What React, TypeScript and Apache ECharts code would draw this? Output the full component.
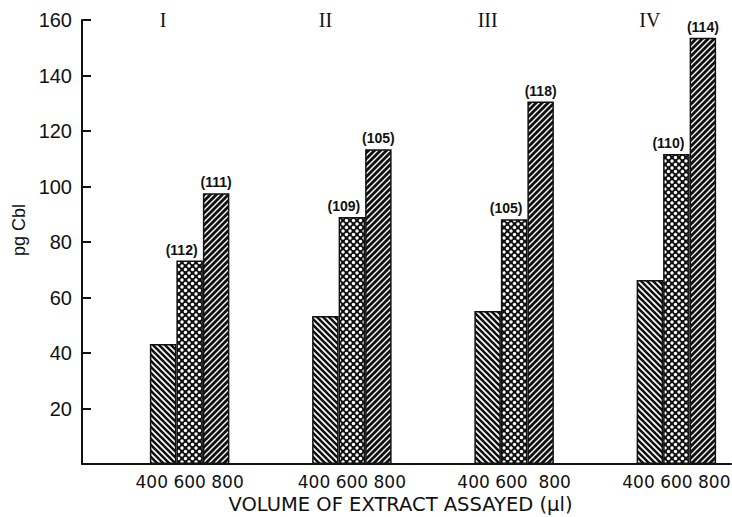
import React, { useEffect, useRef } from "react";
import * as echarts from "echarts";

// ---- data ----
const groups = ["I", "II", "III", "IV"];
const volumeLabels = ["400 600 800", "400 600 800", "400 600  800", "400 600 800"];
const v400 = [43.2, 53.3, 55.1, 66.3];
const v600 = [73.3, 89.0, 88.2, 111.7];
const v800 = [97.6, 113.4, 130.6, 153.6];
const n600 = ["(112)", "(109)", "(105)", "(110)"];
const n800 = ["(111)", "(105)", "(118)", "(114)"];
const yName = "pg Cbl";
const xName = "VOLUME OF EXTRACT ASSAYED (\u03bcl)";

function makePattern(kind: string): HTMLCanvasElement {
  const c = document.createElement("canvas");
  const s = kind === "cross" ? 7 : 6;
  c.width = s;
  c.height = s;
  const g = c.getContext("2d")!;
  if (kind === "back") {
    g.fillStyle = "#fff";
    g.fillRect(0, 0, s, s);
    g.strokeStyle = "#111";
    g.lineWidth = 2.6;
    g.beginPath();
    for (let k = -1; k <= 1; k++) {
      g.moveTo(k * s - 1, -1);
      g.lineTo(k * s + s + 1, s + 1);
    }
    g.stroke();
  } else if (kind === "fwd") {
    g.fillStyle = "#111";
    g.fillRect(0, 0, s, s);
    g.strokeStyle = "#fff";
    g.lineWidth = 1.4;
    g.beginPath();
    for (let k = -1; k <= 1; k++) {
      g.moveTo(k * s - 1, s + 1);
      g.lineTo(k * s + s + 1, -1);
    }
    g.stroke();
  } else {
    g.fillStyle = "#111";
    g.fillRect(0, 0, s, s);
    g.fillStyle = "#fff";
    const pts = [
      [0, 0],
      [s, 0],
      [0, s],
      [s, s],
      [s / 2, s / 2],
    ];
    for (const [x, y] of pts) {
      g.beginPath();
      g.arc(x, y, 1.7, 0, Math.PI * 2);
      g.fill();
    }
  }
  return c;
}

export default function App() {
  const ref = useRef<HTMLDivElement>(null);
  useEffect(() => {
    if (!ref.current) return;
    const chart = echarts.init(ref.current, undefined, { renderer: "svg" });
    const font = "Liberation Sans";
    const wide = "DejaVu Sans";
    const BW = 26.5;
    const barStyle = (kind: string) => ({
      color: { image: makePattern(kind), repeat: "repeat" },
      borderColor: "#111",
      borderWidth: 1.5,
    });
    const barLabel = (names: string[], dx: number) => ({
      show: true,
      position: "top",
      distance: 4,
      offset: [dx, 0],
      fontFamily: font,
      fontWeight: "bold",
      fontSize: 14,
      color: "#111",
      formatter: (p: any) => names[p.dataIndex],
    });
    chart.setOption({
      animation: false,
      backgroundColor: "#fff",
      grid: [
        {
          left: 82,
          top: 20,
          width: 649,
          height: 444,
          containLabel: false,
          outerBoundsMode: "none",
        },
      ],
      xAxis: [
        {
          type: "category",
          data: groups,
          position: "top",
          axisLine: { show: false },
          axisTick: { show: false },
          splitLine: { show: false },
          axisLabel: {
            fontFamily: "Liberation Serif",
            fontSize: 20,
            color: "#111",
            verticalAlign: "middle",
            margin: 0,
          },
        },
        {
          type: "category",
          data: volumeLabels,
          position: "bottom",
          axisLine: { show: true, lineStyle: { color: "#111", width: 2 } },
          axisTick: { show: false },
          splitLine: { show: false },
          axisLabel: {
            fontFamily: wide,
            fontSize: 17,
            color: "#111",
            margin: 9,
            padding: [0, 0, 0, 2 * BW],
          },
          name: xName,
          nameLocation: "middle",
          nameGap: 28,
          nameTextStyle: {
            fontFamily: wide,
            fontSize: 19.5,
            color: "#111",
            padding: [0, 12, 0, 0],
          },
        },
      ],
      yAxis: [
        {
          type: "value",
          min: 0,
          max: 160,
          interval: 20,
          axisLine: { show: true, lineStyle: { color: "#111", width: 2 } },
          axisTick: { show: true, inside: true, length: 9, lineStyle: { color: "#111", width: 2 } },
          splitLine: { show: false },
          axisLabel: {
            fontFamily: font,
            fontSize: 20,
            color: "#111",
            margin: 10,
            formatter: (v: number) => (v === 0 ? "" : String(v)),
          },
          name: yName,
          nameLocation: "middle",
          nameGap: 51,
          nameRotate: 90,
          nameTextStyle: { fontFamily: font, fontSize: 18, color: "#111111", padding: [0, 0, 0, 24] },
        },
      ],
      series: [
        // two empty slots keep each group to the right of its roman numeral
        { type: "bar", xAxisIndex: 1, data: [], barWidth: BW, barGap: "0%" },
        { type: "bar", xAxisIndex: 1, data: [], barWidth: BW, barGap: "0%" },
        {
          type: "bar",
          xAxisIndex: 1,
          data: v400,
          barWidth: BW,
          barGap: "0%",
          itemStyle: barStyle("back"),
        },
        {
          type: "bar",
          xAxisIndex: 1,
          data: v600,
          barWidth: BW,
          barGap: "0%",
          itemStyle: barStyle("cross"),
          label: barLabel(n600, -8),
        },
        {
          type: "bar",
          xAxisIndex: 1,
          data: v800,
          barWidth: BW,
          barGap: "0%",
          itemStyle: barStyle("fwd"),
          label: barLabel(n800, 0),
        },
      ],
    });
    return () => chart.dispose();
  }, []);
  return (
    <div
      ref={ref}
      style={{ position: "absolute", left: 0, top: 0, width: 732, height: 517 }}
    />
  );
}
